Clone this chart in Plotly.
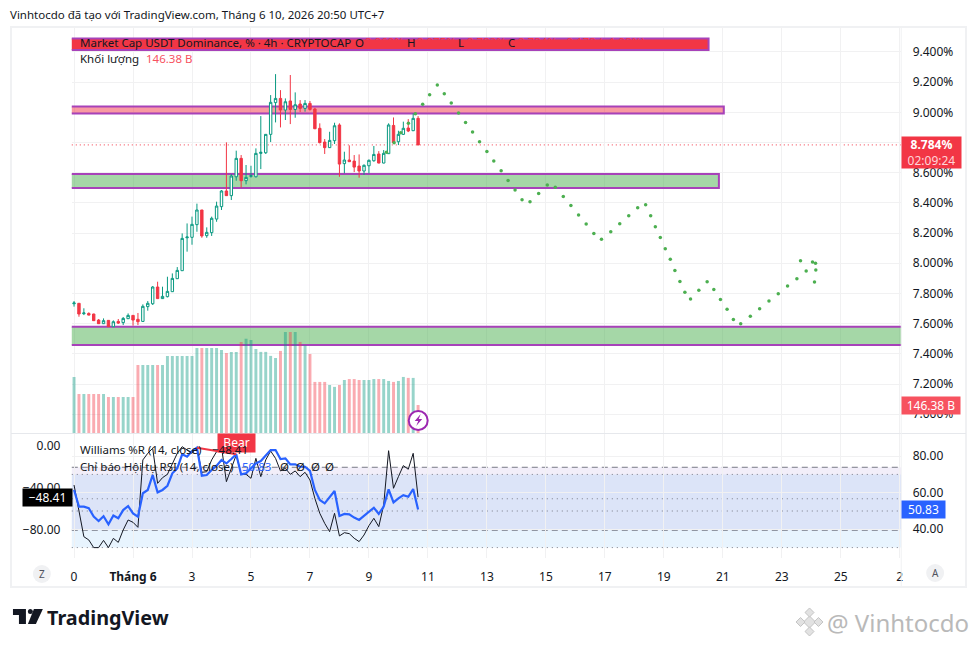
import plotly.graph_objects as go

# candles, 4h bars (price in %)
open_p = [7.732, 7.735, 7.666, 7.668, 7.664, 7.624, 7.600, 7.622, 7.580, 7.615, 7.607, 7.633, 7.655, 7.629, 7.615, 7.713, 7.732, 7.843, 7.766, 7.779, 7.812, 7.898, 7.951, 8.169, 8.172, 8.256, 8.353, 8.183, 8.203, 8.293, 8.375, 8.479, 8.448, 8.573, 8.695, 8.547, 8.576, 8.573, 8.728, 8.732, 8.854, 9.064, 9.092, 9.015, 9.075, 9.019, 9.055, 9.026, 9.059, 9.022, 8.894, 8.803, 8.766, 8.812, 8.916, 8.660, 8.684, 8.677, 8.644, 8.611, 8.646, 8.679, 8.724, 8.664, 8.726, 8.913, 8.805, 8.854, 8.896, 8.878, 8.960]
high_p = [7.750, 7.735, 7.702, 7.675, 7.666, 7.631, 7.635, 7.624, 7.622, 7.631, 7.644, 7.668, 7.657, 7.671, 7.728, 7.750, 7.849, 7.878, 7.845, 7.911, 7.933, 7.975, 8.198, 8.264, 8.309, 8.395, 8.353, 8.238, 8.309, 8.408, 8.485, 8.801, 8.591, 8.746, 8.717, 8.651, 8.646, 8.761, 8.975, 8.856, 9.114, 9.253, 9.147, 9.092, 9.247, 9.132, 9.081, 9.081, 9.075, 9.030, 8.927, 8.823, 8.871, 8.931, 8.927, 8.739, 8.781, 8.717, 8.721, 8.655, 8.688, 8.777, 8.743, 8.750, 8.927, 8.966, 8.878, 8.938, 8.955, 8.993, 8.975]
low_p = [7.713, 7.646, 7.657, 7.655, 7.618, 7.598, 7.598, 7.578, 7.578, 7.598, 7.591, 7.631, 7.587, 7.591, 7.613, 7.686, 7.724, 7.764, 7.764, 7.774, 7.810, 7.896, 7.950, 8.077, 8.123, 8.209, 8.169, 8.169, 8.181, 8.275, 8.353, 8.446, 8.419, 8.547, 8.501, 8.523, 8.567, 8.569, 8.624, 8.724, 8.803, 8.933, 8.900, 8.949, 8.922, 8.964, 9.002, 9.004, 9.011, 8.889, 8.794, 8.724, 8.764, 8.790, 8.573, 8.596, 8.671, 8.604, 8.567, 8.585, 8.596, 8.673, 8.662, 8.662, 8.724, 8.790, 8.783, 8.850, 8.869, 8.876, 8.782]
close_p = [7.737, 7.664, 7.671, 7.657, 7.620, 7.600, 7.620, 7.580, 7.613, 7.604, 7.635, 7.655, 7.624, 7.613, 7.715, 7.735, 7.843, 7.766, 7.781, 7.814, 7.900, 7.953, 8.165, 8.174, 8.258, 8.353, 8.181, 8.205, 8.298, 8.379, 8.479, 8.448, 8.578, 8.695, 8.547, 8.569, 8.580, 8.728, 8.735, 8.854, 9.066, 9.092, 9.015, 9.070, 9.019, 9.050, 9.026, 9.059, 9.019, 8.891, 8.799, 8.766, 8.814, 8.911, 8.657, 8.684, 8.673, 8.637, 8.611, 8.649, 8.682, 8.721, 8.664, 8.728, 8.916, 8.799, 8.854, 8.894, 8.876, 8.960, 8.784]
# volume in billions
volume = [293, 204, 204, 204, 204, 204, 204, 188, 188, 188, 188, 188, 188, 356, 356, 356, 356, 356, 356, 403, 403, 403, 403, 403, 403, 444, 444, 444, 444, 444, 434, 418, 424, 424, 476, 492, 486, 439, 424, 424, 403, 392, 429, 528, 528, 528, 476, 458, 413, 267, 267, 267, 251, 241, 251, 277, 282, 282, 277, 277, 277, 282, 282, 282, 272, 267, 272, 293, 288, 288, 146.38]
rsi = [61.5, 52.4, 52.4, 51.5, 46.9, 44.5, 47.1, 42.7, 47.5, 46.0, 50.5, 52.7, 48.7, 46.9, 59.7, 61.5, 69.7, 60.2, 61.5, 63.8, 70.6, 73.3, 81.0, 79.7, 82.8, 84.6, 69.3, 69.7, 72.4, 74.8, 77.9, 76.0, 78.4, 81.0, 70.0, 70.6, 73.3, 76.0, 77.3, 80.6, 83.3, 83.3, 78.4, 78.8, 75.5, 75.5, 74.2, 74.2, 71.9, 61.5, 56.0, 54.2, 57.3, 60.9, 47.3, 48.4, 48.2, 46.4, 45.1, 47.3, 49.6, 51.8, 48.4, 52.4, 61.8, 54.7, 56.9, 58.7, 57.8, 62.0, 50.83]
williams = [-36.9, -62.3, -86.1, -89.2, -96.5, -96.5, -89.6, -96.5, -87.7, -91.5, -79.7, -70.2, -72.4, -77.2, -13.0, -6.7, -1.9, -35.3, -29.9, -26.7, -16.2, -6.7, -0.4, -3.5, -6.7, -1.3, -24.8, -24.2, -13.0, -5.1, -0.7, -33.7, -21.0, -8.3, -26.7, -26.7, -30.5, -11.5, -28.9, -13.0, -4.5, -11.5, -23.5, -21.0, -26.7, -23.5, -28.9, -24.8, -32.1, -49.6, -63.8, -73.4, -81.3, -63.8, -85.4, -82.3, -83.2, -87.6, -90.8, -84.5, -75.6, -68.6, -76.5, -55.9, -4.2, -40.0, -28.9, -18.4, -21.9, -6.7, -48.41]
bars = list(range(len(close_p)))

# the hand drawn green projection dots
dot_x = [63.56, 65.12, 66.47, 68.03, 69.45, 70.93, 72.35, 73.91, 75.33, 76.75, 78.24, 79.66, 81.08, 82.50, 84.0, 85.4, 86.9, 88.31, 89.73, 91.15, 92.77, 94.53, 96.29, 97.91, 99.54, 101.09, 102.65, 104.2, 105.76, 107.31, 109.2, 111.03, 112.86, 114.68, 116.3, 117.32, 118.27, 119.28, 120.29, 121.31, 122.25, 123.27, 124.28, 125.43, 127.12, 128.81, 130.17, 131.52, 132.87, 134.15, 135.64, 137.6, 139.49, 141.39, 143.28, 145.17, 147.07, 148.96, 147.81, 150.25, 150.86, 150.92, 150.65]
dot_y = [8.735, 8.799, 8.865, 8.927, 8.991, 9.053, 9.117, 9.181, 9.123, 9.061, 8.995, 8.933, 8.869, 8.805, 8.741, 8.677, 8.613, 8.549, 8.485, 8.421, 8.408, 8.463, 8.518, 8.503, 8.443, 8.382, 8.320, 8.260, 8.198, 8.159, 8.209, 8.262, 8.315, 8.368, 8.388, 8.315, 8.242, 8.170, 8.097, 8.026, 7.953, 7.880, 7.808, 7.763, 7.821, 7.878, 7.827, 7.761, 7.695, 7.627, 7.600, 7.649, 7.699, 7.750, 7.799, 7.850, 7.898, 7.949, 8.017, 8.008, 8.000, 7.955, 7.876]

# zones: top, bottom, right end in bars
zone_top = [9.489, 9.038, 8.591, 7.580]
zone_bottom = [9.413, 8.992, 8.499, 7.459]
zone_end = [129.1, 132.2, 131.2, 170]
zone_fill = ["#F23645", "rgba(242,54,69,0.5)", "rgba(76,175,80,0.5)", "rgba(76,175,80,0.5)"]

price_ticks = [7.0, 7.2, 7.4, 7.6, 7.8, 8.0, 8.2, 8.4, 8.6, 8.8, 9.0, 9.2, 9.4]
price_labels = [f"{p:.3f}%" for p in price_ticks]
date_ticks = [0, 12, 24, 36, 48, 60, 72, 84, 96, 108, 120, 132, 144, 156, 168]
date_labels = ["0", "<b>Tháng 6</b>", "3", "5", "7", "9", "11", "13", "15", "17", "19", "21", "23", "25", "2"]
last_price = 8.784

FONT = "Noto Sans"
TXT = "#131722"
GRID = "#f1f1f2"
W, H = 979, 647


def px(x):
    return x / W


def py(y):
    return 1 - y / H


def note(x, y, text, size=11.5, color=TXT, anchor="left", **kw):
    # annotations carry a little padding of their own
    if anchor == "left":
        x = x - 3
    return dict(xref="paper", yref="paper", x=px(x), y=py(y), text=text, showarrow=False,
                xanchor=anchor, yanchor="middle", font=dict(family=FONT, size=size, color=color), **kw)


def box(x0, y0, x1, y1, color, text, size=12, text_color="white"):
    return dict(xref="paper", yref="paper", x=px((x0 + x1) / 2), y=py((y0 + y1) / 2), text=text, showarrow=False,
                xanchor="center", yanchor="middle", width=x1 - x0, height=y1 - y0, bgcolor=color, borderpad=0,
                font=dict(family=FONT, size=size, color=text_color))


def paper_path(points):
    return "M" + " L".join(f"{px(x):.5f},{py(y):.5f}" for x, y in points) + " Z"


fig = go.Figure()

vol_colors = ["rgba(8,153,129,0.42)" if c >= o else "rgba(242,54,69,0.42)" for o, c in zip(open_p, close_p)]
fig.add_trace(go.Bar(x=bars, y=volume, marker=dict(color=vol_colors, line_width=0), width=0.6, yaxis="y2"))
fig.add_trace(go.Candlestick(x=bars, open=open_p, high=high_p, low=low_p, close=close_p, whiskerwidth=0,
                             increasing=dict(line=dict(color="#089981", width=1), fillcolor="white"),
                             decreasing=dict(line=dict(color="#F23645", width=1), fillcolor="#F23645")))
fig.add_trace(go.Scatter(x=dot_x, y=dot_y, mode="markers", marker=dict(color="#4CAF50", size=3.5, symbol="circle")))

fig.add_trace(go.Scatter(x=bars, y=williams, mode="lines", line=dict(color="#131722", width=1), xaxis="x2", yaxis="y3"))
fig.add_trace(go.Scatter(x=bars, y=rsi, mode="lines", line=dict(color="#2962FF", width=2.2), xaxis="x2", yaxis="y4"))
fig.add_trace(go.Scatter(x=[25, 33], y=[rsi[25], rsi[33]], mode="lines", line=dict(color="#F23645", width=2), xaxis="x2", yaxis="y4"))

shapes = []
for top, bottom, end, fill in zip(zone_top, zone_bottom, zone_end, zone_fill):
    shapes.append(dict(type="rect", xref="x", yref="y", x0=-2, x1=end, y0=bottom, y1=top, fillcolor=fill,
                       line=dict(color="#A742B9", width=2), layer="between"))
shapes.append(dict(type="line", xref="paper", yref="y", x0=px(71), x1=px(903), y0=last_price, y1=last_price,
                   line=dict(color="#F23645", width=1, dash="1px,3px"), layer="between"))

# indicator bands
shapes.append(dict(type="rect", xref="paper", yref="y3", x0=px(71), x1=px(903), y0=-80, y1=-20,
                   fillcolor="rgba(126,87,194,0.1)", line_width=0, layer="between"))
shapes.append(dict(type="rect", xref="paper", yref="y4", x0=px(71), x1=px(903), y0=30, y1=70,
                   fillcolor="rgba(33,150,243,0.1)", line_width=0, layer="between"))
for level in [-20, -80]:
    shapes.append(dict(type="line", xref="paper", yref="y3", x0=px(71), x1=px(903), y0=level, y1=level,
                       line=dict(color="#787B86", width=1, dash="6px,4px"), layer="between"))
shapes.append(dict(type="line", xref="paper", yref="y3", x0=px(71), x1=px(903), y0=-50, y1=-50,
                   line=dict(color="#787B86", width=1, dash="1px,4px"), layer="between"))
for level in [30, 50, 70]:
    shapes.append(dict(type="line", xref="paper", yref="y4", x0=px(71), x1=px(903), y0=level, y1=level,
                       line=dict(color="#787B86", width=1, dash="1px,4px"), layer="between"))

# frame and separators
shapes.append(dict(type="rect", xref="paper", yref="paper", x0=px(10), x1=px(968), y0=py(587), y1=py(27),
                   line=dict(color="#F0F1F3", width=2), layer="below"))
shapes.append(dict(type="line", xref="paper", yref="paper", x0=px(10), x1=px(968), y0=py(433.5), y1=py(433.5),
                   line=dict(color="#E6E8EC", width=1)))
shapes.append(dict(type="line", xref="paper", yref="paper", x0=px(903), x1=px(903), y0=py(27), y1=py(587),
                   line=dict(color="#F0F1F3", width=1)))

# Z and A buttons
for cx, cy in [(41, 574), (937, 573)]:
    shapes.append(dict(type="circle", xref="paper", yref="paper", x0=px(cx - 9), x1=px(cx + 9), y0=py(cy + 9), y1=py(cy - 9),
                       fillcolor="#F0F1F3", line_width=0))

# lightning icon on the last bar
shapes.append(dict(type="circle", xref="paper", yref="paper", x0=px(409), x1=px(428), y0=py(430), y1=py(411),
                   fillcolor="white", line=dict(color="#9C27B0", width=2)))
shapes.append(dict(type="path", xref="paper", yref="paper", fillcolor="#9C27B0", line_width=0,
                   path=paper_path([(421, 414), (415, 421), (418.5, 421), (416.5, 426), (422.5, 419), (419, 419)])))

# TradingView logo
shapes.append(dict(type="path", xref="paper", yref="paper", fillcolor="#131722", line_width=0,
                   path=paper_path([(12, 609), (25, 609), (25, 624), (18, 624), (18, 615), (12, 615)])))
shapes.append(dict(type="circle", xref="paper", yref="paper", x0=px(27), x1=px(32), y0=py(614), y1=py(609),
                   fillcolor="#131722", line_width=0))
shapes.append(dict(type="path", xref="paper", yref="paper", fillcolor="#131722", line_width=0,
                   path=paper_path([(33, 609), (42, 609), (35, 624), (27, 624)])))

# watermark icon
for cx, cy, r in [(811, 622, 6), (802, 622, 4.5), (820, 622, 4.5), (811, 612.5, 4.5), (811, 631.5, 4.5)]:
    shapes.append(dict(type="path", xref="paper", yref="paper", fillcolor="#E2E2E2", line=dict(color="#C4C4C4", width=1),
                       path=paper_path([(cx, cy - r), (cx + r, cy), (cx, cy + r), (cx - r, cy)])))

annotations = [
    note(10, 15, "Vinhtocdo đã tạo với TradingView.com, Tháng 6 10, 2026 20:50 UTC+7"),
    note(80, 42.5, "Market Cap USDT Dominance, % · 4h · CRYPTOCAP"),
    note(356, 42.5, "O"),
    note(366, 42, "8.960%", color="#F23645"),
    note(408, 42.5, "H"),
    note(418, 42, "8.975%", color="#F23645"),
    note(459, 42.5, "L"),
    note(468, 42, "8.782%", color="#F23645"),
    note(510, 42.5, "C"),
    note(520, 42, "8.784% −0.178 (−1.98%)", color="#F23645"),
    note(80, 59, "Khối lượng"),
    note(146, 59, "146.38 B", color="#F7525F"),
    box(218, 434.5, 255, 452, "#F23645", "Bear", size=12),
    note(80, 449, "Williams %R (14, close)"),
    note(213, 449, "−48.41"),
    note(80, 466, "Chỉ báo Hội tụ RSI (14, close)"),
    note(243, 466, "50.83", color="#2962FF"),
    note(284, 466, "Ø", anchor="center"),
    note(300, 466, "Ø", anchor="center"),
    note(315, 466, "Ø", anchor="center"),
    note(330, 466, "Ø", anchor="center"),
    box(904, 137, 963, 168, "#F23645", "<b>8.784%</b><br><span style='color:#FFD5D9'>02:09:24</span>", size=12),
    box(904, 397, 962, 414, "#F7525F", "146.38 B", size=12),
    box(904, 501, 947, 518, "#2962FF", "50.83", size=12),
    box(22, 489, 71, 506, "#000000", "−48.41", size=12),
    note(41, 574, "Z", size=10, color="#50535E", anchor="center"),
    note(937, 573, "A", size=10, color="#50535E", anchor="center"),
    note(47, 617, "<b>TradingView</b>", size=19.8),
    note(830, 622, "@ Vinhtocdo", size=24, color="#B9B9B9"),
]

axis_font = dict(family=FONT, size=12, color=TXT)
common_x = dict(range=[-0.46, 168.3], domain=[px(71), px(903)], tickmode="array", tickvals=date_ticks,
                showgrid=True, gridcolor=GRID, gridwidth=1, zeroline=False, showline=False)

fig.update_layout(
    width=W, height=H, margin=dict(l=0, r=0, t=0, b=0), showlegend=False,
    paper_bgcolor="white", plot_bgcolor="white", barmode="overlay",
    xaxis=dict(common_x, anchor="y", showticklabels=False, ticks="", rangeslider=dict(visible=False)),
    xaxis2=dict(common_x, anchor="y3", matches="x", ticktext=date_labels, ticks="outside", ticklen=8,
                tickcolor="rgba(0,0,0,0)", tickfont=axis_font),
    yaxis=dict(domain=[py(433), py(27)], range=[6.876, 9.565], side="right", anchor="x", tickmode="array",
               tickvals=price_ticks, ticktext=price_labels, ticks="outside", ticklen=8,
               tickcolor="rgba(0,0,0,0)", tickfont=axis_font, gridcolor=GRID, zeroline=False, showline=False),
    yaxis2=dict(domain=[py(433), py(27)], range=[0, 2122], overlaying="y", visible=False),
    yaxis3=dict(domain=[py(558), py(434)], range=[-106.4, 11.7], side="left", anchor="x2", tickmode="array",
                tickvals=[0, -40, -80], tickformat=".2f", ticks="outside", ticklen=8,
                tickcolor="rgba(0,0,0,0)", tickfont=axis_font, showgrid=False, zeroline=False, showline=False),
    yaxis4=dict(domain=[py(558), py(434)], range=[24.3, 92.1], side="right", anchor="x2", overlaying="y3", tickmode="array",
                tickvals=[40, 60, 80], tickformat=".2f", ticks="outside", ticklen=8,
                tickcolor="rgba(0,0,0,0)", tickfont=axis_font, showgrid=True, gridcolor=GRID, zeroline=False, showline=False),
    shapes=shapes, annotations=annotations,
)

fig.write_html("out.html", config=dict(displayModeBar=False),
               post_script="document.body.style.margin='0';document.body.style.overflow='hidden';")
